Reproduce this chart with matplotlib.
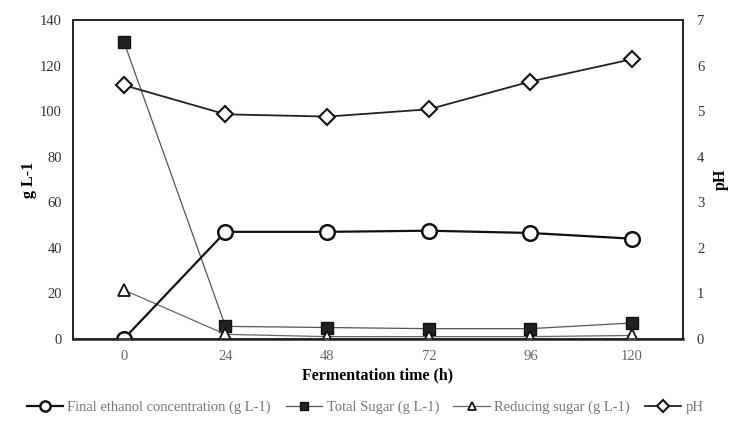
import numpy as np
import matplotlib
matplotlib.use('Agg')
import matplotlib.pyplot as plt

plt.rcParams['font.family'] = ['Liberation Serif', 'DejaVu Serif']

# Fermentation time labels (h)
times = ['0', '24', '48', '72', '96', '120']
# Series values
ethanol = [0, 47, 47, 47.5, 46.5, 44]
total_sugar = [130.5, 5.5, 5, 4.5, 4.5, 7]
reducing_sugar = [21.5, 2, 1, 1, 1, 1.5]
ph = [5.57, 4.93, 4.88, 5.04, 5.65, 6.14]

x = np.arange(len(times))

fig = plt.figure(figsize=(7.3, 4.21), dpi=100)
ax = fig.add_axes([0.1, 0.195, 0.8356, 0.7575])
ax2 = ax.twinx()

# Thin grey sugar lines first, then ethanol on top
l2, = ax.plot(x, total_sugar, color='#555555', lw=0.9, marker='s', ms=8,
              mfc='#222222', mec='#111111', zorder=3)
l3, = ax.plot(x, reducing_sugar, color='#666666', lw=0.9, marker='^', ms=9,
              mfc='white', mec='#111111', mew=1.3, zorder=3)
l1, = ax.plot(x, ethanol, color='#111111', lw=1.6, marker='o', ms=10.5,
              mfc='white', mec='#111111', mew=1.8, zorder=4)
l4, = ax2.plot(x, ph, color='#222222', lw=1.3, marker='D', ms=8.5,
               mfc='white', mec='#111111', mew=1.5, zorder=4)

ax.set_xlim(-0.5, 5.5)
ax.set_ylim(0, 140)
ax.set_yticks(np.arange(0, 141, 20))
ax2.set_ylim(0, 7)
ax2.set_yticks(np.arange(0, 8, 1))
ax.set_xticks(x)
ax.set_xticklabels(times)

ax.tick_params(axis='both', length=0, labelsize=10.5, colors='#333333')
ax.tick_params(axis='x', pad=8, colors='#666666')
ax.tick_params(axis='y', pad=8)
ax2.tick_params(axis='y', length=0, labelsize=10.5, colors='#333333', pad=10)

for a in (ax, ax2):
    for s in a.spines.values():
        s.set_color('#222222')
        s.set_linewidth(1.2)
ax.spines['bottom'].set_linewidth(1.8)

ax.set_ylabel('g L-1', fontsize=11.5, fontweight='bold', labelpad=2)
ax2.set_ylabel('pH', fontsize=11.5, fontweight='bold', rotation=90, labelpad=6)
ax.set_xlabel('Fermentation time (h)', fontsize=11.5, fontweight='bold', labelpad=3)

leg = fig.legend([l1, l2, l3, l4],
                 ['Final ethanol concentration (g L-1)', 'Total Sugar (g L-1)',
                  'Reducing sugar (g L-1)', 'pH'],
                 loc='center', bbox_to_anchor=(0.5, 0.032), ncol=4, frameon=False,
                 fontsize=10.5, handlelength=2.5, columnspacing=1.0, handletextpad=0.3,
                 markerscale=0.7)
for t in leg.get_texts():
    t.set_color('#777777')

fig.savefig('out.png', dpi=100)
